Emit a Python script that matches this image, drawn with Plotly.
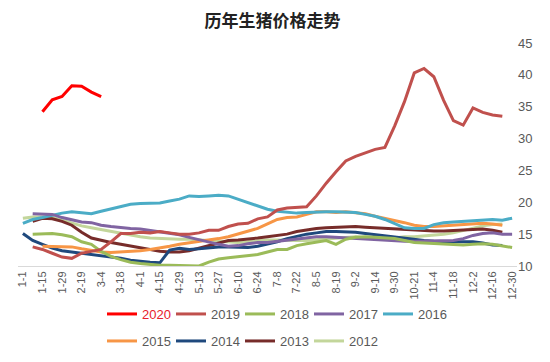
import plotly.graph_objects as go

dates = ["1-1","1-8","1-15","1-22","1-29","2-12","2-19","2-26","3-4","3-11","3-18","3-25",
         "4-1","4-8","4-15","4-22","4-29","5-6","5-13","5-20","5-27","6-3","6-10","6-17",
         "6-24","7-1","7-8","7-15","7-22","7-29","8-5","8-12","8-19","8-26","9-2","9-8",
         "9-14","9-23","9-30","10-14","10-21","10-28","11-4","11-11","11-18","11-25","12-2",
         "12-9","12-16","12-23","12-30"]
tick_labels = dates[::2]

N = None
y2020 = [N, N, 34.2, 36.1, 36.6, 38.3, 38.2, 37.3, 36.6] + [N] * 42
y2019 = [N, 13.0, 12.6, 12.0, 11.4, 11.2, 12.0, 12.3, 12.6, 13.8, 15.1, 15.1, 15.3, 15.2,
         15.4, 15.2, 15.0, 15.0, 15.2, 15.6, 15.6, 16.2, 16.6, 16.7, 17.4, 17.7, 18.8, 19.1,
         19.2, 19.3, 21.0, 23.0, 24.8, 26.5, 27.2, 27.8, 28.3, 28.6, 32.0, 35.8, 40.3, 41.0,
         39.7, 36.0, 32.8, 32.1, 34.8, 34.1, 33.7, 33.5, N]
y2018 = [N, 15.0, 15.1, 15.1, 14.9, 14.6, 13.8, 13.4, 12.3, 11.5, 11.0, 10.6, 10.4, 10.2,
         10.1, 10.1, 10.1, 10.0, 10.0, 10.6, 11.1, 11.3, 11.5, 11.6, 11.8, 12.2, 12.6, 12.6,
         13.2, 13.5, 13.8, 14.0, 13.4, 14.2, 14.5, 14.6, 14.5, 14.4, 14.3, 14.0, 13.7, 13.6,
         13.5, 13.4, 13.3, 13.3, 13.4, 13.5, 13.4, 13.1, 12.9]
y2017 = [N, 18.2, 18.2, 18.1, 17.6, 17.2, 16.9, 16.8, 16.4, 16.2, 16.0, 15.9, 15.8, 15.6,
         15.4, 15.2, 14.9, 14.5, 14.1, 13.7, 13.4, 13.1, 13.2, 13.5, 13.7, 13.7, 13.9, 14.1,
         14.3, 14.5, 14.6, 14.6, 14.5, 14.4, 14.4, 14.3, 14.2, 14.1, 14.0, 13.9, 13.9, 13.9,
         13.9, 13.9, 14.0, 14.3, 14.8, 15.1, 15.2, 15.0, 15.0]
y2016 = [16.7, 17.3, 17.6, 18.0, 18.3, 18.5, 18.3, 18.2, 18.6, 19.0, 19.4, 19.7, 19.8, 19.8,
         19.9, 20.2, 20.5, 21.0, 20.9, 21.0, 21.1, 21.0, 20.5, 19.9, 19.4, 18.9, 18.6, 18.4,
         18.3, 18.4, 18.5, 18.5, 18.5, 18.5, 18.4, 18.1, 17.8, 17.3, 16.6, 16.0, 15.9, 15.9,
         16.5, 16.8, 16.9, 17.0, 17.1, 17.3, 17.3, 17.2, 17.5]
y2015 = [N, N, 13.1, 13.1, 13.1, 13.0, 12.7, 12.4, 12.2, 12.1, 12.2, 12.2, 12.4, 12.6,
         12.8, 13.1, 13.4, 13.6, 13.8, 14.0, 14.3, 14.6, 15.0, 15.4, 15.9, 16.6, 17.3, 17.6,
         17.7, 18.1, 18.5, 18.5, 18.4, 18.5, 18.4, 18.2, 17.8, 17.5, 17.2, 16.8, 16.4, 16.2,
         16.2, 16.3, 16.4, 16.6, 16.7, 16.7, 16.6, 16.4, N]
y2014 = [15.1, 14.0, 13.4, 12.8, 12.4, 12.2, 12.1, 11.9, 11.6, 11.4, 11.2, 10.9, 10.7, 10.6,
         10.5, 12.5, 12.8, 12.6, 12.7, 12.9, 13.0, 13.0, 12.9, 12.9, 13.1, 13.4, 13.8, 14.3,
         14.7, 15.0, 15.2, 15.4, 15.4, 15.4, 15.3, 15.1, 14.9, 14.7, 14.5, 14.3, 14.1, 14.0,
         13.9, 13.8, 13.8, 13.8, 13.8, 13.6, 13.3, 13.2, N]
y2013 = [N, 17.0, 17.5, 17.4, 17.0, 16.4, 15.3, 14.4, 14.0, 13.7, 13.4, 13.1, 12.8, 12.5,
         12.3, 12.2, 12.2, 12.4, 12.8, 13.3, 13.7, 14.0, 14.1, 14.2, 14.4, 14.6, 14.8, 15.0,
         15.4, 15.7, 15.9, 16.0, 16.1, 16.2, 16.2, 16.1, 16.0, 15.9, 15.8, 15.7, 15.6, 15.5,
         15.5, 15.5, 15.6, 15.7, 15.8, 15.8, 15.6, 15.3, N]
y2012 = [17.5, 17.7, 17.7, 17.6, 17.2, 16.7, 16.3, 16.0, 15.7, 15.4, 15.1, 14.9, 14.6, 14.4,
         14.3, 14.2, 14.2, 14.2, 14.1, 14.0, 13.9, 13.8, 13.7, 13.8, 14.0, 14.1, 14.1, 14.0,
         14.0, 14.0, 14.1, 14.2, 14.3, 14.5, 14.6, 14.4, 14.3, 14.2, 14.4, 14.6, 14.6, 14.7,
         14.9, 15.0, 15.2, 15.6, 16.0, 16.3, 16.5, 16.6, N]

series = [
    ("<span style='color:#E8202A'>2020</span>", y2020, "#FF0000", "legend"),
    ("2019", y2019, "#C0504D", "legend"),
    ("2018", y2018, "#9BBB59", "legend"),
    ("2017", y2017, "#8064A2", "legend"),
    ("2016", y2016, "#4BACC6", "legend"),
    ("2015", y2015, "#F79646", "legend2"),
    ("2014", y2014, "#1F497D", "legend2"),
    ("2013", y2013, "#772C2A", "legend2"),
    ("2012", y2012, "#C3D69B", "legend2"),
]

fig = go.Figure()
# draw older years first so newer ones are on top
for name, ys, color, lg in reversed(series):
    fig.add_trace(go.Scatter(x=dates, y=ys, name=name, mode="lines",
                             line=dict(color=color, width=3), connectgaps=False,
                             legend=lg))

# the page body has an 8px margin, so the figure is slightly smaller than the window
W, H = 534, 346
L, R, T, B = 10, 25, 35, 88
pw, ph = W - L - R, H - T - B

legend_common = dict(orientation="h", xanchor="left", yanchor="middle",
                     font=dict(family="Liberation Sans, Arial, sans-serif", size=13, color="#595959"),
                     entrywidth=24, entrywidthmode="pixels", itemwidth=30,
                     traceorder="reversed", bgcolor="rgba(0,0,0,0)", tracegroupgap=0)

fig.update_layout(
    width=W, height=H,
    margin=dict(l=L, r=R, t=T, b=B, autoexpand=False),
    paper_bgcolor="white", plot_bgcolor="white",
    title=dict(text="<b>历年生猪价格走势</b>", x=0.51, xref="paper", xanchor="center",
               y=1 - 13.5 / H, yanchor="middle", pad=dict(t=0, b=0, l=0, r=0),
               font=dict(family="Noto Sans CJK SC", size=17, color="#222222")),
    legend=dict(x=(94 - L) / pw, y=(T + ph - 306) / ph, **legend_common),
    legend2=dict(x=(94 - L) / pw, y=(T + ph - 333) / ph, **legend_common),
    xaxis=dict(type="category", categoryorder="array", categoryarray=dates,
               tickmode="array", tickvals=tick_labels, ticktext=tick_labels,
               tickangle=-90, showgrid=False, zeroline=False,
               showline=True, linecolor="#D9D9D9", linewidth=1, ticks="",
               tickfont=dict(family="Liberation Sans, Arial, sans-serif", size=11, color="#595959"),
               range=[-0.5, len(dates) - 0.5]),
    yaxis=dict(side="right", range=[10, 45], dtick=5, tick0=10, showgrid=False,
               zeroline=False, showline=False, ticks="",
               tickfont=dict(family="Liberation Sans, Arial, sans-serif", size=13, color="#595959")),
)

fig.write_html("out.html")
